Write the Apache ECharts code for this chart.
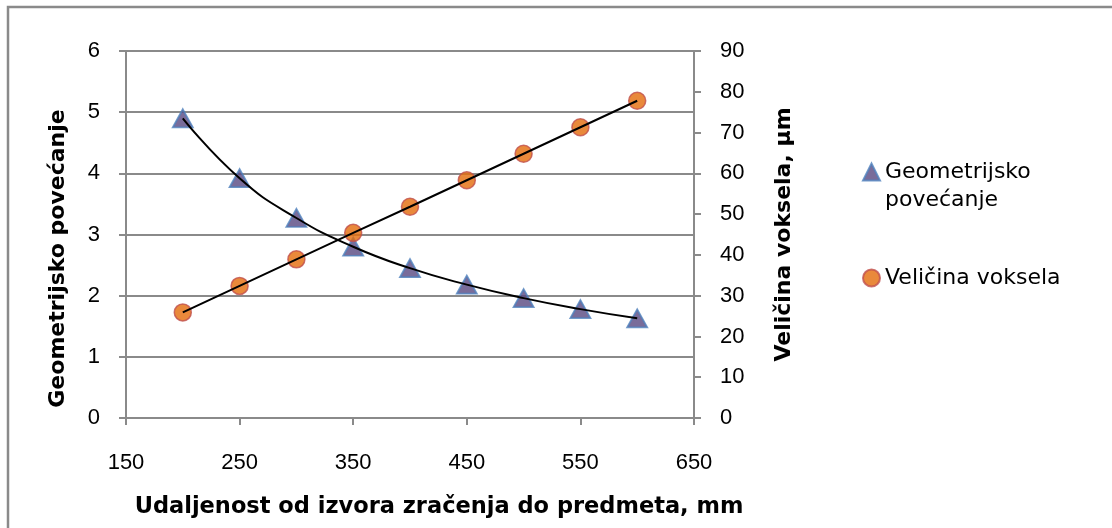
<!DOCTYPE html>
<html><head><meta charset="utf-8">
<script src="https://cdn.jsdelivr.net/npm/echarts@6/dist/echarts.min.js"></script>
<style>html,body{margin:0;padding:0;background:#fff}#c{width:1112px;height:528px}</style>
</head><body><div id="c"></div>
<script>
const distances = [200, 250, 300, 350, 400, 450, 500, 550, 600];
const geomMagnification = [4.90, 3.92, 3.27, 2.80, 2.45, 2.18, 1.96, 1.78, 1.63];
const voxelSize = [25.9, 32.4, 38.9, 45.4, 51.8, 58.3, 64.8, 71.3, 77.8];
const seriesNames = ['Geometrijsko povećanje', 'Veličina voksela'];
const xTitle = 'Udaljenost od izvora zračenja do predmeta, mm';
const yLeftTitle = 'Geometrijsko povećanje';
const yRightTitle = 'Veličina voksela, µm';

const pairs = (xs, ys) => xs.map((x, i) => [x, ys[i]]);
const FONT = '"DejaVu Sans", "Liberation Sans", Arial, sans-serif';
const TICKFONT = '"Liberation Sans", Arial, sans-serif';
const gray = '#8a8a8a';

const chart = echarts.init(document.getElementById('c'));
chart.setOption({
  animation: false,
  textStyle: { fontFamily: FONT },
  grid: { left: 126, right: 418, top: 51, bottom: 110, containLabel: false },
  graphic: [{
    type: 'rect', shape: { x: 8, y: 7, width: 1300, height: 700 },
    style: { fill: 'none', stroke: '#8a8a8a', lineWidth: 2.5 }, silent: true, z: -10
  }],
  legend: {
    orient: 'vertical', left: 862, top: 130, itemGap: 50, padding: 0,
    itemWidth: 17, itemHeight: 17,
    textStyle: { fontSize: 22, color: '#000', fontFamily: FONT, lineHeight: 28 },
    data: [
      { name: seriesNames[0], icon: 'triangle' },
      { name: seriesNames[1], icon: 'circle' }
    ],
    formatter: n => n === seriesNames[0] ? ' \nGeometrijsko\npovećanje' : n
  },
  xAxis: {
    type: 'value', min: 150, max: 650, interval: 100,
    name: xTitle, nameLocation: 'middle', nameGap: 78,
    nameTextStyle: { fontSize: 22.5, fontWeight: 'bold', color: '#000', padding: [0, 0, 0, 58] },
    axisLine: { show: true, lineStyle: { color: gray, width: 2 } },
    axisTick: { show: true, length: 7, lineStyle: { color: gray, width: 2 } },
    axisLabel: { fontSize: 22, fontFamily: TICKFONT, color: '#000', margin: 34 },
    splitLine: { show: false }
  },
  yAxis: [{
    type: 'value', min: 0, max: 6, interval: 1, position: 'left',
    name: yLeftTitle, nameLocation: 'middle', nameGap: 57,
    nameTextStyle: { fontSize: 22, fontWeight: 'bold', color: '#000', padding: [0, 48, 0, 0] },
    axisLine: { show: true, lineStyle: { color: gray, width: 2 } },
    axisTick: { show: true, length: 7, lineStyle: { color: gray, width: 2 } },
    axisLabel: { fontSize: 22, fontFamily: TICKFONT, color: '#000', margin: 26 },
    splitLine: { show: true, lineStyle: { color: gray, width: 2 } }
  }, {
    type: 'value', min: 0, max: 90, interval: 10, position: 'right',
    name: yRightTitle, nameLocation: 'middle', nameGap: 79, nameRotate: 90,
    nameTextStyle: { fontSize: 22, fontWeight: 'bold', color: '#000' },
    axisLine: { show: true, lineStyle: { color: gray, width: 2 } },
    axisTick: { show: true, length: 7, lineStyle: { color: gray, width: 2 } },
    axisLabel: { fontSize: 22, fontFamily: TICKFONT, color: '#000', margin: 26 },
    splitLine: { show: false }
  }],
  series: [{
    name: seriesNames[0], type: 'scatter', yAxisIndex: 0,
    data: pairs(distances, geomMagnification),
    symbol: 'triangle', symbolSize: [20, 18],
    itemStyle: { color: '#584781', borderColor: '#4f81bd', borderWidth: 1.8 }, z: 3
  }, {
    name: seriesNames[1], type: 'scatter', yAxisIndex: 1,
    data: pairs(distances, voxelSize),
    symbol: 'circle', symbolSize: 17,
    itemStyle: { color: '#e46c0a', borderColor: '#c0504d', borderWidth: 1.5 }, z: 3
  }, {
    name: 'trend1', type: 'line', yAxisIndex: 0, smooth: 0.5,
    data: pairs(distances, geomMagnification), showSymbol: false, symbol: 'none',
    lineStyle: { color: '#000', width: 2 }, z: 5, silent: true
  }, {
    name: 'trend2', type: 'line', yAxisIndex: 1, smooth: false,
    data: pairs(distances, voxelSize), showSymbol: false, symbol: 'none',
    lineStyle: { color: '#000', width: 2 }, z: 5, silent: true
  }]
});
</script></body></html>
